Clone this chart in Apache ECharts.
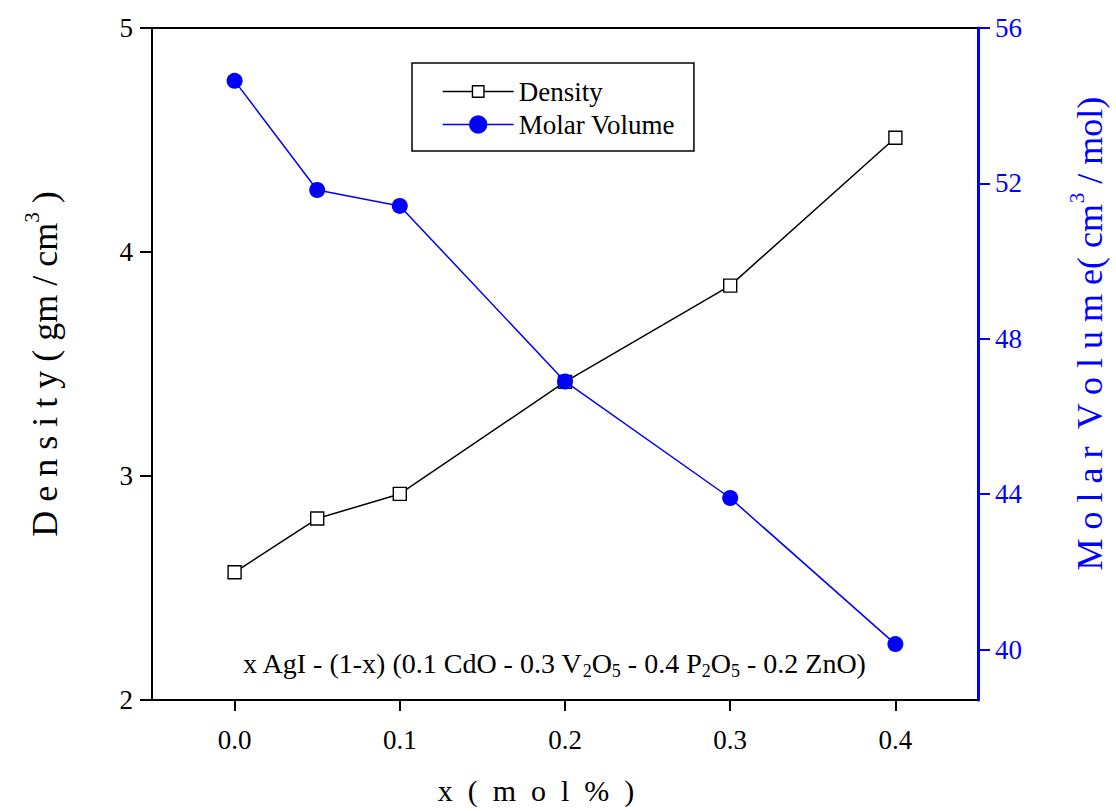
<!DOCTYPE html>
<html>
<head>
<meta charset="utf-8">
<script src="https://cdn.jsdelivr.net/npm/echarts@6/dist/echarts.min.js"></script>
<style>
  html, body { margin: 0; padding: 0; background: #fff; overflow: hidden; }
  #chart { width: 1116px; height: 811px; }
</style>
</head>
<body>
<div id="chart"></div>
<script>
// AgI content x (mol fraction)
const xValues = [0, 0.05, 0.1, 0.2, 0.3, 0.4];
// Density (gm/cm^3)
const density = [2.57, 2.81, 2.92, 3.42, 3.85, 4.51];
// Molar volume (cm^3/mol)
const molarVolume = [54.64, 51.83, 51.42, 46.9, 43.9, 40.14];

const xTicks = [0, 0.1, 0.2, 0.3, 0.4];
const volumeTicks = [40, 44, 48, 52, 56];

const FONT = 'Liberation Serif';
const BLUE = '#0000ff';
const BLACK = '#000000';
const EN = '\u2002'; // wide gap between spaced-out letters

// legend icons: line with a marker in the middle
const LW = 71, LH = 17;
function densityIcon() {
  const s = 11.5;
  const a = (LW - s) / 2, b = (LW + s) / 2, t = (LH - s) / 2, m = LH / 2;
  return 'path://M0,0L0,0' +
    'M0,' + m + 'L' + a + ',' + m +
    'M' + a + ',' + t + 'L' + b + ',' + t + 'L' + b + ',' + (t + s) + 'L' + a + ',' + (t + s) + 'Z' +
    'M' + b + ',' + m + 'L' + LW + ',' + m +
    'M' + LW + ',' + LH + 'L' + LW + ',' + LH;
}
function volumeIcon() {
  const d = 17;
  const a = (LW - d) / 2, b = (LW + d) / 2, m = LH / 2;
  return 'path://M0,0L0,0' +
    'M0,' + m + 'L' + a + ',' + m +
    'M' + a + ',' + m + 'A' + (d / 2) + ',' + (d / 2) + ' 0 1,1 ' + b + ',' + m +
    'A' + (d / 2) + ',' + (d / 2) + ' 0 1,1 ' + a + ',' + m + 'Z' +
    'M' + b + ',' + m + 'L' + LW + ',' + m +
    'M' + LW + ',' + LH + 'L' + LW + ',' + LH;
}

const chart = echarts.init(document.getElementById('chart'), null, { renderer: 'svg' });

const titleRich = (color) => ({
  t: { fontFamily: FONT, fontSize: 36, color: color },
  s: { fontFamily: FONT, fontSize: 21, color: color, padding: [0, 0, 26, 0] }
});

chart.setOption({
  animation: false,
  textStyle: { fontFamily: FONT },
  grid: { left: 152, right: 138, top: 28, bottom: 111, containLabel: false, outerBoundsMode: 'none' },
  legend: {
    orient: 'vertical',
    left: 412,
    top: 63,
    padding: [15, 19, 13, 30],
    itemWidth: LW,
    itemHeight: LH,
    itemGap: 6,
    symbolKeepAspect: false,
    selectedMode: false,
    borderColor: BLACK,
    borderWidth: 1.5,
    backgroundColor: '#fff',
    textStyle: { fontFamily: FONT, fontSize: 27, color: BLACK },
    data: [
      { name: 'Density', icon: densityIcon(), itemStyle: { color: '#fff', borderColor: BLACK, borderWidth: 1.4 } },
      { name: 'Molar Volume', icon: volumeIcon(), itemStyle: { color: BLUE, borderColor: BLUE, borderWidth: 1.4 } }
    ]
  },
  xAxis: [{
    type: 'value', position: 'bottom', min: -0.05, max: 0.45,
    axisLine: { onZero: false, lineStyle: { color: BLACK, width: 2 } },
    axisTick: { show: true, customValues: xTicks, length: 11, lineStyle: { color: BLACK, width: 2 } },
    axisLabel: { customValues: xTicks, formatter: v => v.toFixed(1), fontFamily: FONT, fontSize: 27, color: BLACK, margin: 26 },
    splitLine: { show: false },
    name: ['x', '(', 'm', 'o', 'l', '%', ')'].join(EN),
    nameLocation: 'middle',
    nameGap: 75,
    nameTextStyle: { fontFamily: FONT, fontSize: 30, color: BLACK, padding: [0, 58, 0, 0] }
  }, {
    type: 'value', position: 'top', min: -0.05, max: 0.45,
    axisLine: { onZero: false, lineStyle: { color: BLACK, width: 2 } },
    axisTick: { show: false }, axisLabel: { show: false }, splitLine: { show: false }
  }],
  yAxis: [{
    type: 'value', position: 'left', min: 2, max: 5, interval: 1,
    axisLine: { show: true, onZero: false, lineStyle: { color: BLACK, width: 2 } },
    axisTick: { show: true, length: 12, lineStyle: { color: BLACK, width: 2 } },
    axisLabel: { fontFamily: FONT, fontSize: 27, color: BLACK, margin: 19 },
    splitLine: { show: false },
    name: '{t|D e n s i t y ( gm / cm}{s|3}{t| )}',
    nameLocation: 'middle',
    nameRotate: 90,
    nameGap: 84,
    nameTextStyle: { rich: titleRich(BLACK) }
  }, {
    type: 'value', position: 'right', min: 38.7, max: 56,
    axisLine: { show: true, onZero: false, lineStyle: { color: BLUE, width: 3 } },
    axisTick: { show: true, customValues: volumeTicks, length: 12, lineStyle: { color: BLUE, width: 2 } },
    axisLabel: { customValues: volumeTicks, fontFamily: FONT, fontSize: 27, color: BLUE, margin: 17 },
    splitLine: { show: false },
    name: '{t|M o l a r  V o l u m e( cm}{s|3}{t| / mol)}',
    nameLocation: 'middle',
    nameRotate: 90,
    nameGap: 88,
    nameTextStyle: { rich: titleRich(BLUE), padding: [0, 0, 0, 60] }
  }],
  graphic: [{
    type: 'text',
    x: 554,
    y: 663,
    style: {
      text: 'x AgI - (1-x) (0.1 CdO - 0.3 V{b|2}O{b|5} - 0.4 P{b|2}O{b|5} - 0.2 ZnO)',
      fontFamily: FONT,
      fontSize: 28,
      fill: BLACK,
      align: 'center',
      verticalAlign: 'middle',
      rich: { b: { fontFamily: FONT, fontSize: 18, fill: BLACK, padding: [16, 0, 0, 0] } }
    }
  }],
  series: [{
    name: 'Density',
    type: 'line',
    xAxisIndex: 0, yAxisIndex: 0,
    data: xValues.map((x, i) => [x, density[i]]),
    symbol: 'rect',
    symbolSize: 13,
    lineStyle: { color: BLACK, width: 1.5 },
    itemStyle: { color: '#fff', borderColor: BLACK, borderWidth: 1.4 },
    emphasis: { disabled: true },
    z: 3
  }, {
    name: 'Molar Volume',
    type: 'line',
    xAxisIndex: 0, yAxisIndex: 1,
    data: xValues.map((x, i) => [x, molarVolume[i]]),
    symbol: 'circle',
    symbolSize: 16,
    lineStyle: { color: BLUE, width: 1.5 },
    itemStyle: { color: BLUE, borderWidth: 0 },
    emphasis: { disabled: true },
    z: 4
  }]
});
</script>
</body>
</html>
